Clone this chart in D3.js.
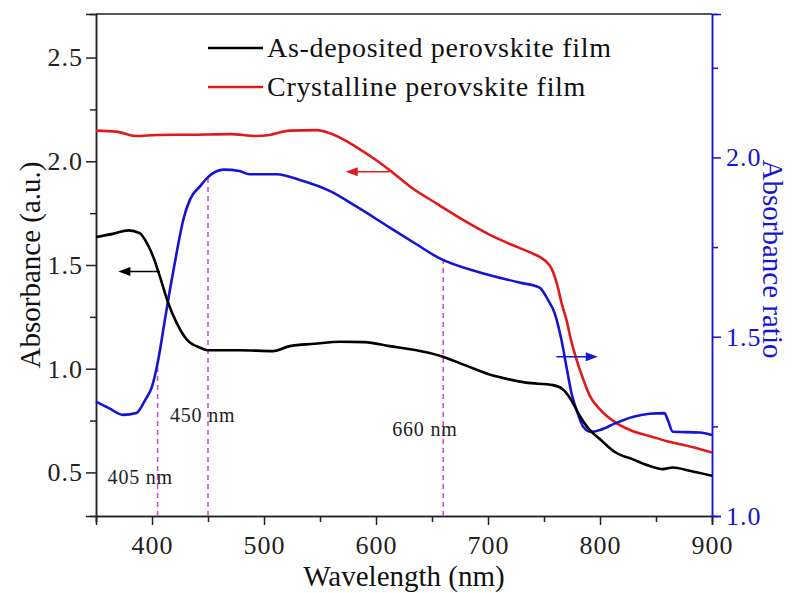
<!DOCTYPE html>
<html>
<head>
<meta charset="utf-8">
<script src="https://cdn.jsdelivr.net/npm/d3@7"></script>
<style>
  html, body { margin: 0; padding: 0; background: #fff; }
  svg { display: block; }
  text { font-family: "Liberation Serif", "Times New Roman", serif; }
</style>
</head>
<body>
<svg id="chart" width="799" height="593"></svg>
<script>
// As-deposited perovskite film (left axis)
const asDepWavelength = [350, 365, 379, 389, 396, 401, 407, 414.5, 422, 431, 443, 450, 478, 508, 523, 545, 568, 590, 612, 635, 656, 680, 700, 710, 734, 758, 767, 774, 782, 789, 800, 814, 829, 844, 856, 865, 880, 900];
const asDepAbs = [1.635, 1.65, 1.667, 1.654, 1.6, 1.541, 1.445, 1.317, 1.221, 1.141, 1.101, 1.089, 1.089, 1.085, 1.109, 1.12, 1.13, 1.128, 1.109, 1.09, 1.064, 1.016, 0.975, 0.96, 0.933, 0.921, 0.90, 0.852, 0.772, 0.716, 0.66, 0.596, 0.564, 0.532, 0.516, 0.524, 0.508, 0.484];

// Crystalline perovskite film (left axis)
const crystWavelength = [350, 368, 386, 404, 434, 470, 493, 505, 523, 547, 559, 582, 600, 612, 630, 656, 680, 700, 720, 740, 750, 757, 762, 766, 770, 774, 779, 785, 791, 800, 814, 829, 844, 859, 874, 900];
const crystAbs = [2.148, 2.143, 2.122, 2.127, 2.128, 2.131, 2.122, 2.127, 2.148, 2.15, 2.135, 2.07, 2.006, 1.958, 1.88, 1.79, 1.71, 1.65, 1.6, 1.555, 1.525, 1.48, 1.40, 1.31, 1.237, 1.141, 1.045, 0.949, 0.868, 0.804, 0.74, 0.70, 0.676, 0.652, 0.633, 0.596];

// Absorbance ratio (right axis)
const ratioWavelength = [350, 362, 374, 386, 394, 400, 405.6, 411.5, 416, 422, 428, 434, 443, 450, 464, 478, 487, 511, 535, 559, 582, 612, 635, 656, 692, 728, 746, 753.5, 759.5, 765.5, 770, 774.5, 780, 785, 792, 800, 814, 829, 844, 857.5, 860.5, 865, 889, 900];
const ratioValue = [1.319, 1.30, 1.282, 1.287, 1.324, 1.361, 1.436, 1.547, 1.631, 1.734, 1.827, 1.883, 1.92, 1.945, 1.966, 1.962, 1.953, 1.953, 1.934, 1.906, 1.864, 1.805, 1.76, 1.72, 1.68, 1.651, 1.637, 1.603, 1.566, 1.492, 1.417, 1.343, 1.287, 1.249, 1.235, 1.240, 1.259, 1.276, 1.285, 1.287, 1.268, 1.235, 1.233, 1.226];

// Axis ticks
const xMajorTicks = [400, 500, 600, 700, 800, 900];
const xMinorTicks = [350, 450, 550, 650, 750, 850];
const leftMajorTicks = [0.5, 1.0, 1.5, 2.0, 2.5];
const leftMinorTicks = [0.75, 1.25, 1.75, 2.25];
const rightMajorTicks = [1.0, 1.5, 2.0];
const rightMinorTicks = [1.25, 1.75, 2.25];

// Marked wavelengths
const markWavelengths = [405, 450, 660];
const markLabels = ["405 nm", "450 nm", "660 nm"];

const legendNames = ["As-deposited perovskite film", "Crystalline perovskite film"];

const COL_BLACK = "#000000", COL_RED = "#e01a1a", COL_BLUE = "#1414d2", COL_MARK = "#d24fd2";

const svg = d3.select("#chart");
const L = 96, R = 712, T = 14, B = 516;

const x = d3.scaleLinear().domain([350, 900]).range([L, R]);
const yL = d3.scaleLinear().domain([0.29, 2.71]).range([B, T]);
const yR = d3.scaleLinear().domain([1.0, 2.40]).range([B, T]);

const fmt = d3.format(".1f");
const tickFont = 26;

// frame: top border
svg.append("line").attr("x1", L).attr("x2", R).attr("y1", T).attr("y2", T)
  .attr("stroke", "#222").attr("stroke-width", 1.5);

function styleAxis(g, color) {
  g.select(".domain").attr("stroke", color).attr("stroke-width", 1.5);
  g.selectAll(".tick line").attr("stroke", color).attr("stroke-width", 1.5);
  g.selectAll(".tick text").attr("fill", color)
    .style("font-family", "'Liberation Serif', serif").style("font-size", tickFont + "px")
    .style("letter-spacing", "1px");
}

// bottom axis
const gxMinor = svg.append("g").attr("transform", `translate(0,${B})`)
  .call(d3.axisBottom(x).tickValues(xMinorTicks).tickSize(6).tickFormat(""));
styleAxis(gxMinor, "#222");
const gx = svg.append("g").attr("transform", `translate(0,${B})`)
  .call(d3.axisBottom(x).tickValues(xMajorTicks).tickSize(9).tickPadding(11).tickFormat(d3.format("d")));
styleAxis(gx, "#222");

// left axis
const gyMinor = svg.append("g").attr("transform", `translate(${L},0)`)
  .call(d3.axisLeft(yL).tickValues(leftMinorTicks).tickSize(6).tickFormat(""));
styleAxis(gyMinor, "#222");
const gy = svg.append("g").attr("transform", `translate(${L},0)`)
  .call(d3.axisLeft(yL).tickValues(leftMajorTicks).tickSize(10).tickPadding(3).tickFormat(fmt));
styleAxis(gy, "#222");

// right axis
const grMinor = svg.append("g").attr("transform", `translate(${R},0)`)
  .call(d3.axisRight(yR).tickValues(rightMinorTicks).tickSize(6).tickFormat(""));
styleAxis(grMinor, COL_BLUE);
const gr = svg.append("g").attr("transform", `translate(${R},0)`)
  .call(d3.axisRight(yR).tickValues(rightMajorTicks).tickSize(9).tickPadding(5).tickFormat(fmt));
styleAxis(gr, COL_BLUE);

// axis titles
svg.append("text").attr("x", (L + R) / 2).attr("y", 586).attr("text-anchor", "middle")
  .style("font-size", "29px").attr("fill", "#111").text("Wavelength (nm)");
svg.append("text").attr("transform", `translate(40,${(T + B) / 2}) rotate(-90)`)
  .attr("text-anchor", "middle").style("font-size", "29px").attr("fill", "#111").text("Absorbance (a.u.)");
svg.append("text").attr("transform", `translate(763,${(T + B) / 2 - 6}) rotate(90)`)
  .attr("text-anchor", "middle").style("font-size", "29px").attr("fill", COL_BLUE).text("Absorbance ratio");

// dashed markers rising from the axis to the ratio curve
const ratioAt = w => {
  const i = d3.bisectLeft(ratioWavelength, w);
  const w0 = ratioWavelength[i - 1], w1 = ratioWavelength[i];
  const t = (w - w0) / (w1 - w0);
  return ratioValue[i - 1] + t * (ratioValue[i] - ratioValue[i - 1]);
};
svg.append("g").selectAll("line").data(markWavelengths).join("line")
  .attr("x1", d => x(d)).attr("x2", d => x(d))
  .attr("y1", B).attr("y2", d => yR(ratioAt(d)))
  .attr("stroke", COL_MARK).attr("stroke-width", 1.6).attr("stroke-dasharray", "5,4");

// curves
const lineL = d3.line().x(d => x(d[0])).y(d => yL(d[1])).curve(d3.curveMonotoneX);
const lineR = d3.line().x(d => x(d[0])).y(d => yR(d[1])).curve(d3.curveMonotoneX);
svg.append("path").datum(d3.zip(crystWavelength, crystAbs)).attr("d", lineL)
  .attr("fill", "none").attr("stroke", COL_RED).attr("stroke-width", 2.6);
svg.append("path").datum(d3.zip(ratioWavelength, ratioValue)).attr("d", lineR)
  .attr("fill", "none").attr("stroke", COL_BLUE).attr("stroke-width", 2.6);
svg.append("path").datum(d3.zip(asDepWavelength, asDepAbs)).attr("d", lineL)
  .attr("fill", "none").attr("stroke", COL_BLACK).attr("stroke-width", 2.6);

// marker labels
const markPos = [[x(405) - 50, 484], [x(450) - 38, 422], [x(660) - 51, 436]];
svg.append("g").selectAll("text").data(markLabels).join("text")
  .attr("x", (d, i) => markPos[i][0]).attr("y", (d, i) => markPos[i][1])
  .style("font-size", "20px").style("letter-spacing", "0.8px").attr("fill", "#222").text(d => d);

// arrows pointing at each curve's axis
function arrow(x1, x2, y, color) {
  const dir = Math.sign(x2 - x1);
  svg.append("line").attr("x1", x1).attr("x2", x2 - dir * 8).attr("y1", y).attr("y2", y)
    .attr("stroke", color).attr("stroke-width", 1.5);
  svg.append("path")
    .attr("d", `M${x2},${y} L${x2 - dir * 12},${y - 4.5} L${x2 - dir * 12},${y + 4.5} Z`)
    .attr("fill", color);
}
arrow(x(407), x(370), yL(1.469), COL_BLACK);
arrow(x(612), x(573), yL(1.95), COL_RED);
arrow(x(761), x(798), yR(1.444), COL_BLUE);

// legend
const legendColors = [COL_BLACK, COL_RED];
const lg = svg.append("g");
legendNames.forEach((name, i) => {
  const ly = 48 + i * 39;
  lg.append("line").attr("x1", 208).attr("x2", 263).attr("y1", ly).attr("y2", ly)
    .attr("stroke", legendColors[i]).attr("stroke-width", 2.6);
  lg.append("text").attr("x", 267).attr("y", ly + 9).style("font-size", "28px")
    .style("letter-spacing", "0.7px").attr("fill", "#111").text(name);
});
</script>
</body>
</html>
